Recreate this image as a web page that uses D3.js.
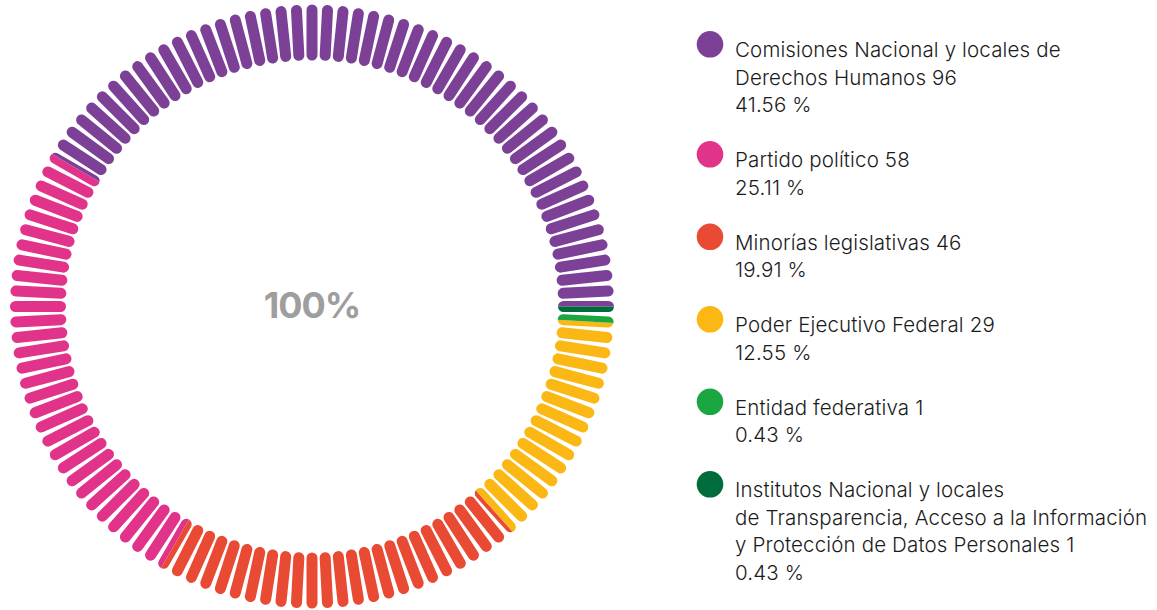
<!DOCTYPE html>
<html>
<head>
<meta charset="utf-8">
<script src="https://cdn.jsdelivr.net/npm/d3@7"></script>
<style>
  body { margin: 0; background: #fff; }
  svg { display: block; }
</style>
</head>
<body>
<svg id="chart" width="1157" height="610"></svg>
<script>
// data
const categories = [
  ["Comisiones Nacional y locales de", "Derechos Humanos"],
  ["Partido político"],
  ["Minorías legislativas"],
  ["Poder Ejecutivo Federal"],
  ["Entidad federativa"],
  ["Institutos Nacional y locales", "de Transparencia, Acceso a la Información", "y Protección de Datos Personales"]
];
const values = [96, 58, 46, 29, 1, 1];
const colors = ["#7c4197", "#e2338b", "#e94a34", "#fbb714", "#1aa641", "#006b3b"];
const centerLabel = "100%";

const width = 1157, height = 610;
const cx = 312, cy = 306.5;
const rOuter = 302, rInner = 246, barW = 11;
const nBars = 120;

const total = d3.sum(values);
const svg = d3.select("#chart");

// clip made of the rounded bars
const clip = svg.append("defs").append("clipPath").attr("id", "bars");
clip.selectAll("rect")
  .data(d3.range(nBars))
  .join("rect")
  .attr("x", rInner)
  .attr("y", -barW / 2)
  .attr("width", rOuter - rInner)
  .attr("height", barW)
  .attr("rx", barW / 2)
  .attr("transform", (d) => `translate(${cx},${cy}) rotate(${(-d * 360) / nBars})`);

//pie counterclockwise from 3 o'clock
const pie = d3.pie().sort(null).value((d) => d)
  .startAngle(Math.PI / 2)
  .endAngle(Math.PI / 2 - 2 * Math.PI);
const arc = d3.arc().innerRadius(rInner - 5).outerRadius(rOuter + 5);

svg.append("g")
  .attr("clip-path", "url(#bars)")
  .append("g")
  .attr("transform", `translate(${cx},${cy})`)
  .selectAll("path")
  .data(pie(values))
  .join("path")
  .attr("d", arc)
  .attr("fill", (d, i) => colors[i]);

svg.append("text")
  .attr("x", cx)
  .attr("y", 318)
  .attr("text-anchor", "middle")
  .attr("font-family", "Inter, 'Noto Sans', sans-serif")
  .attr("font-weight", 700)
  .attr("font-size", 36)
  .attr("letter-spacing", -1)
  .attr("fill", "#9e9e9e")
  .text(centerLabel);

//legend
const lineH = 27.5;
let baseline = 57.3;
const legend = svg.append("g");
categories.forEach((lines, i) => {
  const txt = lines.slice();
  txt[txt.length - 1] += " " + values[i];
  txt.push(((values[i] / total) * 100).toFixed(2) + " %");

  legend.append("circle")
    .attr("cx", 710)
    .attr("cy", baseline - 13)
    .attr("r", 13.3)
    .attr("fill", colors[i]);

  legend.append("text")
    .attr("font-family", "Inter, 'Noto Sans', sans-serif")
    .attr("font-weight", 300)
    .attr("font-size", 20.5)
    .attr("letter-spacing", 0.15)
    .attr("fill", "#1b1b1b")
    .selectAll("tspan")
    .data(txt)
    .join("tspan")
    .attr("x", 735)
    .attr("y", (d, j) => baseline + j * lineH)
    .text((d) => d);

  baseline += (txt.length + 1) * lineH;
});
</script>
</body>
</html>
